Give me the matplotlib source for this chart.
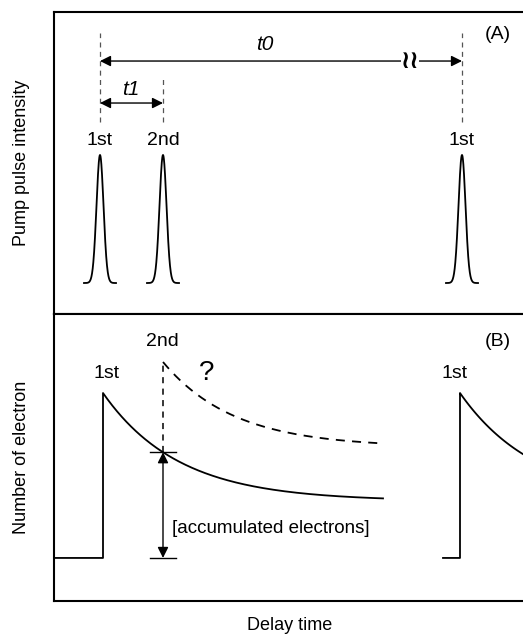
import numpy as np
import matplotlib
matplotlib.use('Agg')
import matplotlib.pyplot as plt

plt.rcParams['font.family'] = ['Liberation Sans', 'DejaVu Sans']

# pulse times (arbitrary delay units, 1st pulse at 0)
pulse_times = [0, 63, 362]
pulse_labels = ['1st', '2nd', '1st']
pulse_sigma = 3.5
pulse_halfwidth = 16
t1 = 63
t0 = 362

# electron number: steps and decay (normalized to first peak)
step_times = [3, 360]
decay_floor = 0.345
decay_amp = 0.655
decay_tau = 75.5
decay_end = 283
# hypothetical response to 2nd pulse (dashed)
second_start = 1.188
second_floor = 0.671
second_amp = 0.517
second_tau = 71
second_end = 278

xmin, xmax = -46, 423

fig = plt.figure(figsize=(5.23, 6.38), dpi=100)
W, H = 523, 638
ax1 = fig.add_axes([54 / W, 1 - 314 / H, 1 - 54 / W, 302 / H])
ax2 = fig.add_axes([54 / W, 1 - 601 / H, 1 - 54 / W, 287 / H])

for ax in (ax1, ax2):
    ax.set_xlim(xmin, xmax)
    ax.set_xticks([])
    ax.set_yticks([])
    ax.spines['right'].set_visible(False)
    for s in ('left', 'top', 'bottom'):
        ax.spines[s].set_linewidth(1.5)

lab_fs = 14

# ---- (A) pump pulses
ax1.set_ylim(-0.242, 2.117)
for p, lab in zip(pulse_times, pulse_labels):
    t = np.linspace(p - pulse_halfwidth, p + pulse_halfwidth, 200)
    ax1.plot(t, np.exp(-(t - p) ** 2 / (2 * pulse_sigma ** 2)), color='black', lw=1.3)
    ax1.text(p, 1.117, lab, ha='center', va='center', fontsize=lab_fs)

dash_top = [1.953, 1.61, 1.953]
for p, top in zip(pulse_times, dash_top):
    ax1.plot([p, p], [1.258, top], color='#555555', lw=0.9, dashes=(4, 3.5))

arrow = dict(arrowstyle='<|-|>', color='black', lw=1.0, mutation_scale=16,
             shrinkA=0, shrinkB=0)
ax1.annotate('', xy=(t0, 1.734), xytext=(0, 1.734), arrowprops=arrow)
ax1.annotate('', xy=(t1, 1.406), xytext=(0, 1.406), arrowprops=arrow)
ax1.text(310, 1.734, '\u2240\u2240', family='DejaVu Sans', fontweight='bold',
         ha='center', va='center', fontsize=18,
         bbox=dict(facecolor='white', edgecolor='none', pad=0.0))
ax1.text(165, 1.86, 't0', style='italic', ha='center', va='center', fontsize=15)
ax1.text(31, 1.51, 't1', style='italic', ha='center', va='center', fontsize=15)
ax1.text(398, 1.94, '(A)', ha='center', va='center', fontsize=lab_fs)

# ---- (B) number of electrons
ax2.set_ylim(-0.261, 1.479)
s0 = step_times[0]
t = np.linspace(s0, decay_end, 300)
ax2.plot(np.r_[xmin, s0, t], np.r_[0, 0, decay_floor + decay_amp * np.exp(-(t - s0) / decay_tau)],
         color='black', lw=1.3)
s1 = step_times[1]
t = np.linspace(s1, xmax + 5, 100)
ax2.plot(np.r_[s1 - 17, s1, t], np.r_[0, 0, decay_floor + decay_amp * np.exp(-(t - s1) / decay_tau)],
         color='black', lw=1.3)

cross = decay_floor + decay_amp * np.exp(-(t1 - s0) / decay_tau)
ax2.plot([t1, t1], [cross, second_start], color='black', lw=1.1, dashes=(4, 3.5))
t = np.linspace(t1, second_end, 200)
ax2.plot(t, second_floor + second_amp * np.exp(-(t - t1) / second_tau),
         color='black', lw=1.3, dashes=(5, 4))

ax2.annotate('', xy=(t1, cross), xytext=(t1, 0), arrowprops=arrow)
ax2.plot([t1 - 13, t1 + 13], [cross, cross], color='black', lw=1.0)
ax2.plot([t1 - 13, t1 + 13], [0, 0], color='black', lw=1.0)
ax2.text(72, 0.18, '[accumulated electrons]', ha='left', va='center', fontsize=13.5)

ax2.text(7, 1.12, '1st', ha='center', va='center', fontsize=lab_fs)
ax2.text(62, 1.31, '2nd', ha='center', va='center', fontsize=lab_fs)
ax2.text(107, 1.12, '?', ha='center', va='center', fontsize=20)
ax2.text(355, 1.12, '1st', ha='center', va='center', fontsize=lab_fs)
ax2.text(398, 1.31, '(B)', ha='center', va='center', fontsize=lab_fs)

fig.text(22 / W, 1 - 163 / H, 'Pump pulse intensity', rotation=90, ha='center', va='center', fontsize=13)
fig.text(22 / W, 1 - 457 / H, 'Number of electron', rotation=90, ha='center', va='center', fontsize=13)
fig.text(290 / W, 1 - 625 / H, 'Delay time', ha='center', va='center', fontsize=13)

fig.savefig('out.png', dpi=100)
